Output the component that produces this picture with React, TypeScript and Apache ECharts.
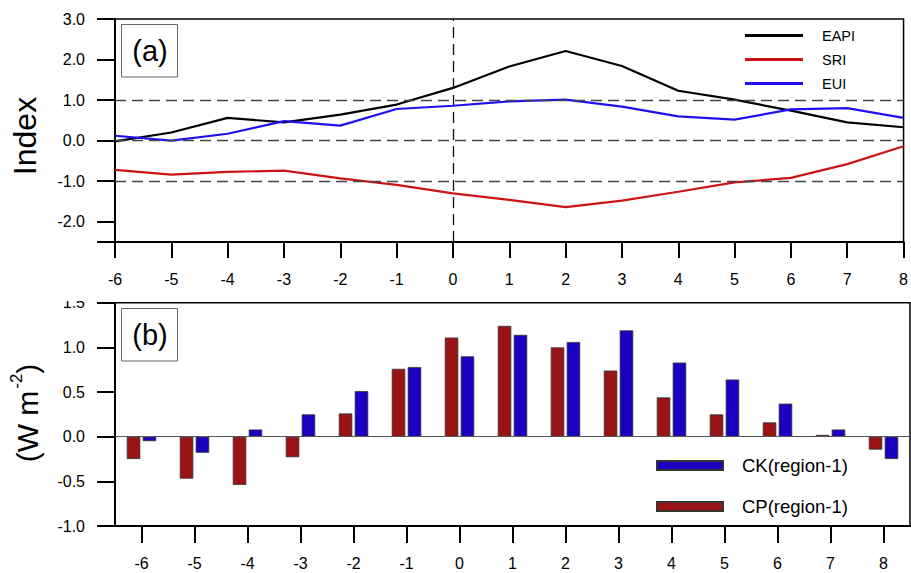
import React, { useEffect, useRef } from "react";
import * as echarts from "echarts";

const lags = [-6, -5, -4, -3, -2, -1, 0, 1, 2, 3, 4, 5, 6, 7, 8];
const eapi = [-0.02, 0.2, 0.56, 0.45, 0.64, 0.89, 1.3, 1.83, 2.21, 1.84, 1.23, 1.01, 0.74, 0.45, 0.33];
const sri = [-0.72, -0.84, -0.77, -0.74, -0.93, -1.09, -1.3, -1.46, -1.64, -1.48, -1.26, -1.03, -0.92, -0.58, -0.14];
const eui = [0.12, 0.0, 0.17, 0.48, 0.37, 0.78, 0.86, 0.97, 1.01, 0.84, 0.6, 0.52, 0.77, 0.8, 0.56];
const cp = [-0.25, -0.47, -0.54, -0.23, 0.26, 0.76, 1.11, 1.24, 1.0, 0.74, 0.44, 0.25, 0.16, 0.02, -0.145];
const ck = [-0.05, -0.18, 0.08, 0.25, 0.51, 0.78, 0.9, 1.14, 1.06, 1.19, 0.83, 0.64, 0.37, 0.08, -0.25];
const lineNames = ["EAPI", "SRI", "EUI"];
const barNames = ["CK(region-1)", "CP(region-1)"];

const FONT = "Liberation Sans, Arial, Helvetica, sans-serif";

export default function App() {
  const ref = useRef<HTMLDivElement>(null);
  useEffect(() => {
    if (!ref.current) return;
    const chart = echarts.init(ref.current, undefined, { renderer: "svg" });
    const axisLbl = { color: "#000", fontSize: 16, fontFamily: FONT };
    const pair = (xs: number[], ys: number[]) => xs.map((x, i) => [x, ys[i]]);
    chart.setOption({
      animation: false,
      textStyle: { fontFamily: FONT },
      grid: [
        { left: 115, top: 19, width: 795, height: 223, show: true, borderColor: "#000", borderWidth: 1.5, backgroundColor: "transparent" },
        { left: 115, top: 302.7, width: 795, height: 223.3, show: true, borderColor: "#000", borderWidth: 1.5, backgroundColor: "transparent" },
      ],
      xAxis: [
        {
          type: "value", gridIndex: 0, min: -6, max: 8, interval: 1,
          axisLine: { show: true, onZero: false, lineStyle: { color: "#000", width: 2 } },
          axisTick: { show: true, inside: false, length: 16, lineStyle: { color: "#000", width: 2 } },
          axisLabel: { ...axisLbl, margin: 29 },
          splitLine: { show: false },
        },
        {
          type: "category", gridIndex: 1, data: lags.map(String), boundaryGap: true,
          axisLine: { show: true, onZero: false, lineStyle: { color: "#000", width: 2 } },
          axisTick: { show: true, alignWithLabel: true, inside: false, length: 17, lineStyle: { color: "#000", width: 2 } },
          axisLabel: { ...axisLbl, margin: 29 },
          splitLine: { show: false },
        },
      ],
      yAxis: [
        {
          type: "value", gridIndex: 0, min: -2.5, max: 3, minInterval: 1, maxInterval: 1, splitNumber: 5,
          axisLine: { show: true, onZero: false, lineStyle: { color: "#000", width: 2 } },
          axisTick: { show: true, inside: false, length: 18, lineStyle: { color: "#000", width: 2 } },
          axisLabel: { ...axisLbl, margin: 30, formatter: (v: number) => (Number.isInteger(v) ? v.toFixed(1) : "") },
          splitLine: { show: false },
        },
        {
          type: "value", gridIndex: 1, min: -1, max: 1.5, interval: 0.5,
          axisLine: { show: true, onZero: false, lineStyle: { color: "#000", width: 2 } },
          axisTick: { show: true, inside: false, length: 18, lineStyle: { color: "#000", width: 2 } },
          axisLabel: { ...axisLbl, margin: 30, formatter: (v: number) => v.toFixed(1) },
          splitLine: { show: false },
        },
      ],
      legend: [
        {
          data: lineNames, orient: "vertical", left: 740, top: 23, icon: "rect",
          itemWidth: 58, itemHeight: 3, itemGap: 9,
          textStyle: { fontSize: 14.5, color: "#000", lineHeight: 15, padding: [0, 0, 0, 14], fontFamily: FONT },
        },
        {
          data: barNames, orient: "vertical", left: 651, top: 450, icon: "rect",
          itemWidth: 66, itemHeight: 9, itemGap: 20,
          textStyle: { fontSize: 18.5, color: "#000", lineHeight: 21, padding: [0, 0, 0, 14], fontFamily: FONT },
        },
      ],
      series: [
        {
          name: "EAPI", type: "line", xAxisIndex: 0, yAxisIndex: 0, data: pair(lags, eapi),
          symbol: "none", lineStyle: { color: "#000", width: 2.2 }, itemStyle: { color: "#000" },
          markLine: {
            silent: true, symbol: "none", label: { show: false },
            lineStyle: { color: "#444", type: [11, 6], width: 1.3 },
            data: [{ yAxis: 1 }, { yAxis: 0 }, { yAxis: -1 }, { xAxis: 0, lineStyle: { color: "#111", type: [11, 6], width: 1.3 } }],
          },
        },
        {
          name: "SRI", type: "line", xAxisIndex: 0, yAxisIndex: 0, data: pair(lags, sri),
          symbol: "none", lineStyle: { color: "#cc1414", width: 2.2 }, itemStyle: { color: "#cc1414" },
        },
        {
          name: "EUI", type: "line", xAxisIndex: 0, yAxisIndex: 0, data: pair(lags, eui),
          symbol: "none", lineStyle: { color: "#2010f0", width: 2.2 }, itemStyle: { color: "#2010f0" },
        },
        {
          name: "CP(region-1)", type: "bar", xAxisIndex: 1, yAxisIndex: 1, data: cp,
          barWidth: 13.5, barGap: "18%",
          itemStyle: { color: "#9a1416", borderColor: "#333", borderWidth: 0.8 },
          markLine: {
            silent: true, symbol: "none", label: { show: false },
            lineStyle: { color: "#555", type: "solid", width: 1.2 },
            data: [{ yAxis: 0 }],
          },
        },
        {
          name: "CK(region-1)", type: "bar", xAxisIndex: 1, yAxisIndex: 1, data: ck,
          barWidth: 13.5, barGap: "18%",
          itemStyle: { color: "#1a00c0", borderColor: "#333", borderWidth: 0.8 },
        },
      ],
      graphic: [
        { type: "rect", zlevel: 5, shape: { x: 40, y: 284, width: 70, height: 17 }, style: { fill: "#fff" }, z: 100 },
        { type: "rect", shape: { x: 121.5, y: 24.5, width: 56, height: 52.5 }, style: { fill: "#fff", stroke: "#666", lineWidth: 1 }, z: 50 },
        { type: "text", x: 150, y: 51, style: { text: "(a)", font: `29px ${FONT}`, fill: "#000", align: "center", verticalAlign: "middle" }, z: 51 },
        { type: "rect", shape: { x: 121.5, y: 308.5, width: 56, height: 52.5 }, style: { fill: "#fff", stroke: "#666", lineWidth: 1 }, z: 50 },
        { type: "text", x: 150, y: 335, style: { text: "(b)", font: `29px ${FONT}`, fill: "#000", align: "center", verticalAlign: "middle" }, z: 51 },
        { type: "text", x: 25, y: 136, rotation: Math.PI / 2, style: { text: "Index", font: `32px ${FONT}`, fill: "#000", align: "center", verticalAlign: "middle" } },
        {
          type: "text", x: 25, y: 413, rotation: Math.PI / 2,
          style: {
            text: "{a|(W m}{s|-2}{a|)}", align: "center", verticalAlign: "middle",
            rich: {
              a: { font: `30px ${FONT}`, fill: "#000", verticalAlign: "bottom", lineHeight: 34 },
              s: { font: `17px ${FONT}`, fill: "#000", verticalAlign: "top", lineHeight: 34, padding: [0, 0, 16, 2] },
            },
          },
        },
      ],
    });
    return () => chart.dispose();
  }, []);
  return <div ref={ref} style={{ width: 911, height: 573, position: "absolute", left: 0, top: 0 }} />;
}
